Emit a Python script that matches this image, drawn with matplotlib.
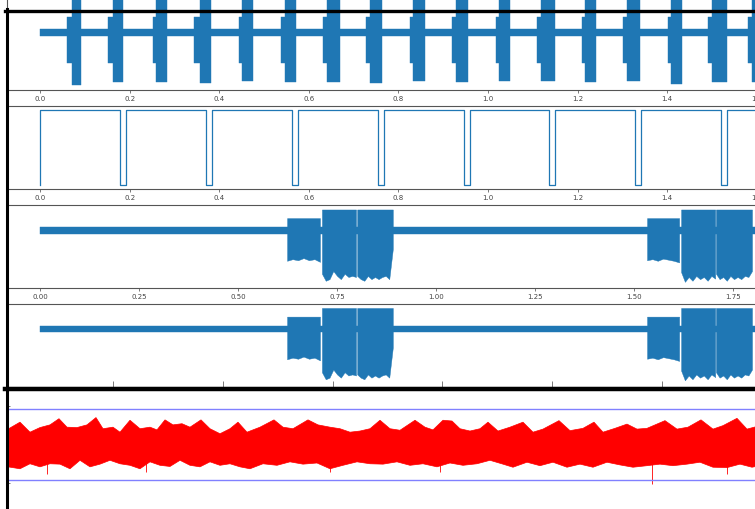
import numpy as np
import matplotlib
matplotlib.use("Agg")
import matplotlib.pyplot as plt
from matplotlib.lines import Line2D

W, H = 755, 510
BLUE = "#1f77b4"

# panel 1: burst train, times in s
burst_start = [0.060, 0.152, 0.252, 0.344, 0.444, 0.538, 0.632, 0.728, 0.826,
               0.920, 1.018, 1.109, 1.210, 1.301, 1.402, 1.491, 1.580]
burst_tall = [0.071, 0.163, 0.259, 0.357, 0.451, 0.547, 0.641, 0.737, 0.833,
              0.929, 1.025, 1.118, 1.217, 1.310, 1.408, 1.500, 1.589]
burst_end = [0.092, 0.185, 0.283, 0.382, 0.475, 0.571, 0.670, 0.763, 0.859,
             0.955, 1.049, 1.150, 1.241, 1.339, 1.433, 1.533, 1.621]
burst_depth = [-1.00, -0.94, -0.94, -0.96, -0.93, -0.95, -0.94, -0.96, -0.93,
               -0.95, -0.93, -0.93, -0.94, -0.93, -0.98, -0.94, -0.95]
burst_shoulder = (-0.58, 0.30)
burst_base = 0.067
burst_t_end = 1.70

# panel 2: gate signal
gate_low_start = [0.179, 0.371, 0.563, 0.755, 0.946, 1.136, 1.328, 1.520]
gate_low_end = [0.192, 0.384, 0.576, 0.768, 0.960, 1.150, 1.342, 1.533]
gate_t_end = 1.70

# panels 3 and 4: recorded clip
seg_start = [0.624, 0.712, 0.801, 1.533, 1.619, 1.707]
seg_end = [0.707, 0.798, 0.891, 1.614, 1.705, 1.798]
seg_top = [0.22, 0.38, 0.38, 0.22, 0.38, 0.38]
seg_low = [
    [-0.57, -0.54, -0.56, -0.52, -0.56, -0.54, -0.59],
    [-0.81, -0.94, -0.91, -0.76, -0.85, -0.91, -0.81, -0.87, -0.85, -0.87],
    [-0.85, -0.91, -0.94, -0.85, -0.91, -0.87, -0.91, -0.87, -0.85, -0.91, -0.35],
    [-0.56, -0.54, -0.57, -0.53, -0.55, -0.57, -0.60],
    [-0.78, -0.96, -0.87, -0.94, -0.85, -0.91, -0.87, -0.94, -0.85, -0.90],
    [-0.81, -0.91, -0.87, -0.94, -0.85, -0.91, -0.87, -0.91, -0.85, -0.87, -0.76],
]
clip_base = (-0.07, 0.05)
clip_t_end = 1.95
p3_ticks = [0.0, 0.25, 0.5, 0.75, 1.0, 1.25, 1.5, 1.75]
p4_ticks = [0.184, 0.462, 0.740, 1.015, 1.293, 1.571, 1.848]

# panel 5: noise with thresholds
red_up_t = [0.08, 0.20, 0.30, 0.40, 0.50, 0.59, 0.67, 0.77, 0.87, 0.96, 1.03, 1.13,
            1.20, 1.30, 1.40, 1.50, 1.57, 1.65, 1.73, 1.82, 1.90, 2.01, 2.10, 2.20,
            2.30, 2.38, 2.47, 2.60, 2.74, 2.83, 2.93, 3.08, 3.18, 3.30, 3.40, 3.50,
            3.60, 3.70, 3.80, 3.90, 4.00, 4.15, 4.25, 4.33, 4.43, 4.52, 4.60, 4.70,
            4.80, 4.88, 4.98, 5.10, 5.23, 5.33, 5.43, 5.59, 5.70, 5.83, 5.94, 6.03,
            6.15, 6.27, 6.37, 6.47, 6.65, 6.77, 6.88, 7.01, 7.13, 7.23, 7.37, 7.47, 7.60]
red_up_v = [0.40, 0.58, 0.32, 0.44, 0.51, 0.67, 0.45, 0.44, 0.51, 0.70, 0.41, 0.45,
            0.32, 0.63, 0.41, 0.45, 0.38, 0.64, 0.51, 0.54, 0.45, 0.64, 0.41, 0.28,
            0.41, 0.58, 0.32, 0.45, 0.64, 0.45, 0.41, 0.64, 0.51, 0.45, 0.41, 0.32,
            0.35, 0.41, 0.63, 0.41, 0.37, 0.63, 0.45, 0.38, 0.63, 0.61, 0.41, 0.35,
            0.41, 0.58, 0.35, 0.45, 0.58, 0.32, 0.40, 0.62, 0.36, 0.42, 0.58, 0.32,
            0.42, 0.53, 0.40, 0.42, 0.62, 0.40, 0.45, 0.64, 0.40, 0.49, 0.68, 0.40, 0.49]
red_lo_t = [0.08, 0.20, 0.30, 0.40, 0.50, 0.60, 0.70, 0.80, 0.90, 1.00, 1.10, 1.20,
            1.30, 1.40, 1.50, 1.60, 1.70, 1.80, 1.90, 2.00, 2.10, 2.20, 2.30, 2.40,
            2.50, 2.63, 2.77, 2.90, 3.03, 3.17, 3.30, 3.43, 3.57, 3.70, 3.83, 3.97,
            4.10, 4.23, 4.37, 4.50, 4.63, 4.77, 4.90, 5.03, 5.13, 5.27, 5.40, 5.53,
            5.67, 5.80, 5.93, 6.07, 6.20, 6.33, 6.47, 6.60, 6.73, 6.87, 7.00, 7.13,
            7.27, 7.40, 7.52, 7.60]
red_lo_v = [-0.58, -0.63, -0.50, -0.58, -0.50, -0.51, -0.63, -0.41, -0.58, -0.51, -0.41, -0.50,
            -0.54, -0.63, -0.45, -0.54, -0.57, -0.41, -0.54, -0.58, -0.45, -0.54, -0.50, -0.58,
            -0.63, -0.50, -0.54, -0.45, -0.51, -0.48, -0.63, -0.54, -0.45, -0.50, -0.51, -0.45,
            -0.54, -0.50, -0.58, -0.48, -0.54, -0.50, -0.41, -0.51, -0.59, -0.46, -0.55, -0.46,
            -0.59, -0.51, -0.59, -0.46, -0.53, -0.59, -0.55, -0.51, -0.55, -0.51, -0.46, -0.59,
            -0.60, -0.51, -0.59, -0.55]
red_spike_t = [0.47, 1.46, 3.30, 4.40, 6.52, 7.27]
red_spike_v = [-0.76, -0.71, -0.71, -0.71, -1.03, -0.77]
red_threshold = 0.91


def px_axes(fig, left, top, right, bottom):
    return fig.add_axes([left / W, 1 - bottom / H, (right - left) / W, (bottom - top) / H])


def style_axis(ax, xlim, ylim, ticks, fmt=None, direction="out", length=1.8):
    ax.set_xlim(*xlim)
    ax.set_ylim(*ylim)
    ax.set_facecolor("none")
    ax.set_yticks([])
    ax.set_xticks(ticks)
    if fmt:
        ax.set_xticklabels([fmt % t for t in ticks])
    else:
        ax.set_xticklabels([])
    ax.tick_params(axis="x", length=length, width=0.5, pad=1.8, labelsize=5,
                   colors="#444444", direction=direction)
    for side in ax.spines:
        ax.spines[side].set_color("#555555")
        ax.spines[side].set_linewidth(0.8)
    ax.spines["right"].set_visible(False)


def draw_clip(ax):
    ax.fill_between([0, clip_t_end], clip_base[0], clip_base[1], color=BLUE, lw=0.3)
    for s, e, top, low in zip(seg_start, seg_end, seg_top, seg_low):
        t = np.linspace(s, e, len(low))
        ax.fill_between(t, low, top, color=BLUE, lw=0.3)


fig = plt.figure(figsize=(W / 100, H / 100), dpi=100)

# panel 1
ax1 = px_axes(fig, 7, -24.5, 800, 91)
ax1.fill_between([0, burst_t_end], -burst_base, burst_base, color=BLUE, lw=0.3)
for s, ts, e, d in zip(burst_start, burst_tall, burst_end, burst_depth):
    ax1.fill_between([s, ts], burst_shoulder[0], burst_shoulder[1], color=BLUE, lw=0.3)
    ax1.fill_between([ts, e], d, 1.0, color=BLUE, lw=0.3)
p1_ticks = [0.0, 0.2, 0.4, 0.6, 0.8, 1.0, 1.2, 1.4, 1.6]
style_axis(ax1, (-0.0737, 1.6964), (-1.1, 1.1), p1_ticks, "%.1f")

# panel 2
ax2 = px_axes(fig, 7, 107, 800, 190)
gate_t = [0.0, 0.0]
gate_v = [0, 1]
for ls, le in zip(gate_low_start, gate_low_end):
    gate_t += [ls, le]
    gate_v += [0, 1]
gate_t.append(gate_t_end)
gate_v.append(1)
ax2.plot(gate_t, gate_v, drawstyle="steps-post", color=BLUE, lw=0.9)
style_axis(ax2, (-0.0737, 1.6964), (-0.05, 1.05), p1_ticks, "%.1f")

# panel 3 and 4
ax3 = px_axes(fig, 7, 206, 800, 289)
draw_clip(ax3)
style_axis(ax3, (-0.0833, 1.9192), (-1.074, 0.463), p3_ticks, "%.2f")

ax4 = px_axes(fig, 7, 304.5, 800, 387.5)
draw_clip(ax4)
style_axis(ax4, (-0.0833, 1.9192), (-1.074, 0.463), p4_ticks, None,
           direction="in", length=4.5)

# panel 5
ax5 = px_axes(fig, 7, 391, 800, 520)
ax5.fill(np.concatenate([red_up_t, red_lo_t[::-1]]),
         np.concatenate([red_up_v, red_lo_v[::-1]]),
         color="red", lw=0.5)
ax5.vlines(red_spike_t, 0, red_spike_v, color="red", lw=0.6)
ax5.axhline(red_threshold, color="#8080ff", lw=1.0)
ax5.axhline(-red_threshold, color="#8080ff", lw=1.0)
ax5.set_xlim(0.07, 8.0)
ax5.set_ylim(-1.935, 1.416)
ax5.set_facecolor("none")
ax5.set_xticks([])
ax5.set_yticks([-1, 1])
ax5.set_yticklabels([])
ax5.tick_params(axis="y", direction="in", length=2.2, width=0.5, colors="#444444")
for side in ax5.spines:
    ax5.spines[side].set_visible(False)

# screenshot frame
frame = [([5, W], [11.7, 11.7], 2.4),
         ([7.3, 7.3], [10, H], 2.2),
         ([5, W], [389.5, 389.5], 3.2)]
for xs, ys, lw in frame:
    fig.add_artist(Line2D([x / W for x in xs], [1 - y / H for y in ys],
                          transform=fig.transFigure, color="black", lw=lw))

fig.savefig("out.png", dpi=100)
